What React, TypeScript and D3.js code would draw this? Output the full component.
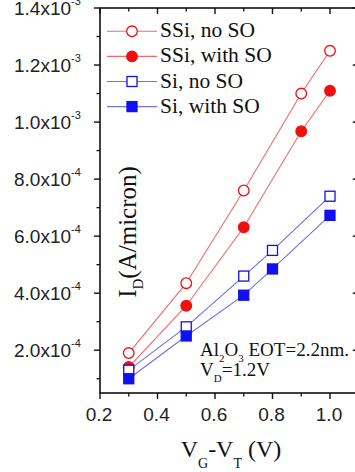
import React from "react";
import * as d3 from "d3";

const W = 355;
const H = 472;

const xValuesSSi = [0.3, 0.5, 0.7, 0.9, 1.0];
const xValuesSi = [0.3, 0.5, 0.7, 0.8, 1.0];
const ssiNoSO = [1.9e-4, 4.35e-4, 7.6e-4, 1.1e-3, 1.25e-3];
const ssiWithSO = [1.41e-4, 3.56e-4, 6.31e-4, 9.68e-4, 1.11e-3];
const siNoSO = [1.3e-4, 2.82e-4, 4.6e-4, 5.5e-4, 7.4e-4];
const siWithSO = [1.0e-4, 2.5e-4, 3.93e-4, 4.85e-4, 6.73e-4];

const seriesNames = ["SSi, no SO", "SSi, with SO", "Si, no SO", "Si, with SO"];

const xTicks = [0.2, 0.4, 0.6, 0.8, 1.0];
const xTickLabels = ["0.2", "0.4", "0.6", "0.8", "1.0"];
const xMinorTicks = [0.3, 0.5, 0.7, 0.9, 1.1];
const yTicks = [2e-4, 4e-4, 6e-4, 8e-4, 1.0e-3, 1.2e-3, 1.4e-3];
const yTickMantissa = ["2.0", "4.0", "6.0", "8.0", "1.0", "1.2", "1.4"];
const yTickExponent = ["-4", "-4", "-4", "-4", "-3", "-3", "-3"];
const yMinorTicks = [1e-4, 3e-4, 5e-4, 7e-4, 9e-4, 1.1e-3, 1.3e-3];

const RED_LINE = "#f06a6a";
const RED = "#f01010";
const BLUE_LINE = "#7070e0";
const BLUE = "#1010f0";

export default function App() {
  const x = d3.scaleLinear().domain([0.2, 1.1]).range([100, 358.75]);
  const y = d3.scaleLinear().domain([0.5e-4, 1.4e-3]).range([393, 8]);
  const x0 = x(0.2), x1 = x(1.1), y0 = y(0.5e-4), y1 = y(1.4e-3);

  const series = [
    { name: seriesNames[0], xs: xValuesSSi, ys: ssiNoSO, line: RED_LINE, color: RED, shape: "circle", filled: false },
    { name: seriesNames[1], xs: xValuesSSi, ys: ssiWithSO, line: RED_LINE, color: RED, shape: "circle", filled: true },
    { name: seriesNames[2], xs: xValuesSi, ys: siNoSO, line: BLUE_LINE, color: BLUE, shape: "square", filled: false },
    { name: seriesNames[3], xs: xValuesSi, ys: siWithSO, line: BLUE_LINE, color: BLUE, shape: "square", filled: true },
  ];

  const lineGen = d3.line<[number, number]>().x((d) => x(d[0])).y((d) => y(d[1]));

  const marker = (s: any, cx: number, cy: number, key: string) =>
    s.shape === "circle" ? (
      <circle key={key} cx={cx} cy={cy} r={5.3} fill={s.filled ? s.color : "#fff"} stroke={s.color} strokeWidth={1.3} />
    ) : (
      <rect key={key} x={cx - 5} y={cy - 5} width={10} height={10} fill={s.filled ? s.color : "#fff"} stroke={s.color} strokeWidth={1.3} />
    );

  const serif = "'Liberation Serif', 'Times New Roman', serif";
  const sans = "'Liberation Sans', Arial, sans-serif";

  return (
    <div style={{ position: "absolute", left: 0, top: 0, width: W, height: H, background: "#fff" }}>
      <svg width={W} height={H} style={{ display: "block" }}>
        <rect width={W} height={H} fill="#fff" />
        {/* series lines */}
        {series.map((s, i) => (
          <path key={"l" + i} d={lineGen(s.xs.map((v, j) => [v, s.ys[j]]) as [number, number][]) || ""} fill="none" stroke={s.line} strokeWidth={1.1} />
        ))}
        {series.map((s, i) => s.xs.map((v, j) => marker(s, x(v), y(s.ys[j]), `m${i}-${j}`)))}

        {/* frame */}
        <rect x={x0} y={y1} width={x1 - x0} height={y0 - y1} fill="none" stroke="#111" strokeWidth={1.6} />

        {/* x ticks */}
        {xTicks.map((t, i) => (
          <g key={"xt" + i}>
            <line x1={x(t)} x2={x(t)} y1={y0} y2={y0 + 6} stroke="#111" strokeWidth={1.4} />
            <line x1={x(t)} x2={x(t)} y1={y1} y2={y1 + 6} stroke="#111" strokeWidth={1.4} />
            <text x={x(t) - 1} y={421} textAnchor="middle" fontFamily={sans} fontSize={19} fill="#222">
              {xTickLabels[i]}
            </text>
          </g>
        ))}
        {xMinorTicks.map((t, i) => (
          <g key={"xm" + i}>
            <line x1={x(t)} x2={x(t)} y1={y0} y2={y0 + 3.5} stroke="#111" strokeWidth={1.3} />
            <line x1={x(t)} x2={x(t)} y1={y1} y2={y1 + 3.5} stroke="#111" strokeWidth={1.3} />
          </g>
        ))}

        {/* y ticks */}
        {yTicks.map((t, i) => (
          <g key={"yt" + i}>
            <line x1={x0 - 6} x2={x0} y1={y(t)} y2={y(t)} stroke="#111" strokeWidth={1.4} />
            <line x1={x1 - 6} x2={x1} y1={y(t)} y2={y(t)} stroke="#111" strokeWidth={1.4} />
            <text x={14} y={y(t) + 6.8} fontFamily={sans} fontSize={19} fill="#222">
              {yTickMantissa[i]}x10
              <tspan dy={-10} fontSize={11}>{yTickExponent[i]}</tspan>
            </text>
          </g>
        ))}
        {yMinorTicks.map((t, i) => (
          <g key={"ym" + i}>
            <line x1={x0 - 3.5} x2={x0} y1={y(t)} y2={y(t)} stroke="#111" strokeWidth={1.3} />
            <line x1={x1 - 3.5} x2={x1} y1={y(t)} y2={y(t)} stroke="#111" strokeWidth={1.3} />
          </g>
        ))}

        {/* legend */}
        {series.map((s, i) => {
          const ly = 31.3 + i * 25.1;
          return (
            <g key={"lg" + i}>
              <line x1={107} x2={157} y1={ly} y2={ly} stroke={s.line} strokeWidth={1.1} />
              {marker(s, 132, ly, "lgm" + i)}
              <text x={160} y={ly + 6} fontFamily={serif} fontSize={21.5} fill="#111">
                {s.name}
              </text>
            </g>
          );
        })}

        {/* annotation */}
        <text x={200} y={356} fontFamily={serif} fontSize={19} fill="#111">
          Al<tspan dy={6} fontSize={11}>2</tspan><tspan dy={-6}>O</tspan><tspan dy={6} fontSize={11}>3</tspan><tspan dy={-6}> EOT=2.2nm.</tspan>
        </text>
        <text x={200} y={376} fontFamily={serif} fontSize={19} fill="#111">
          V<tspan dy={6} fontSize={11}>D</tspan><tspan dy={-6}>=1.2V</tspan>
        </text>

        {/* y axis label */}
        <text transform={`translate(136, 232) rotate(-90)`} textAnchor="middle" fontFamily={serif} fontSize={25} fill="#111">
          I<tspan dy={7} fontSize={15}>D</tspan><tspan dy={-7}>(A/micron)</tspan>
        </text>

        {/* x axis label */}
        <text x={231} y={457} textAnchor="middle" fontFamily={serif} fontSize={24} fill="#111">
          V<tspan dy={11} fontSize={14}>G</tspan><tspan dy={-11}>-V</tspan><tspan dy={11} fontSize={14}>T</tspan><tspan dy={-11}> (V)</tspan>
        </text>
      </svg>
    </div>
  );
}
